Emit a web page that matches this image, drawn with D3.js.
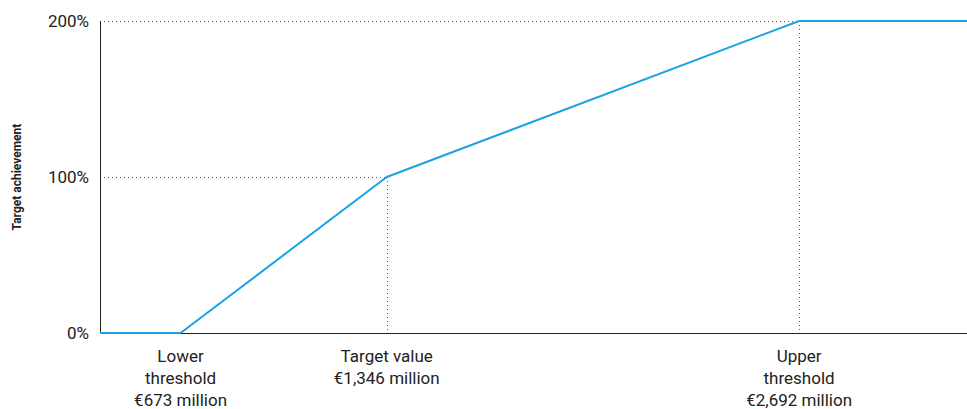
<!DOCTYPE html>
<html>
<head>
<meta charset="utf-8">
<script src="https://cdn.jsdelivr.net/npm/d3@7"></script>
<style>
  body { margin: 0; background: #fff; }
  text { font-family: Roboto, "Noto Sans", sans-serif; fill: #222; }
</style>
</head>
<body>
<script>
// payout curve: EBIT in € million vs target achievement in %
const curveX = [410, 673, 1346, 2692, 3240];
const curveY = [0, 0, 100, 200, 200];
const yTicks = [0, 100, 200];
const yTickLabels = ["0%", "100%", "200%"];
// labelled thresholds on the x axis
const markX = [673, 1346, 2692];
const markY = [0, 100, 200];
const markLabels = [
  ["Lower", "threshold", "€673 million"],
  ["Target value", "€1,346 million"],
  ["Upper", "threshold", "€2,692 million"]
];

var width = 967, height = 409;
var margin = {top: 21, right: 0, bottom: 76, left: 100};

var svg = d3.select("body").append("svg")
  .attr("width", width)
  .attr("height", height);

var x = d3.scaleLinear()
  .domain([curveX[0], curveX[curveX.length - 1]])
  .range([margin.left, width - margin.right]);

var y = d3.scaleLinear()
  .domain([0, 200])
  .range([height - margin.bottom, margin.top]);

// dotted guide lines
var guides = svg.append("g")
  .attr("stroke", "#555")
  .attr("stroke-width", 1)
  .attr("stroke-dasharray", "1,3");

yTicks.slice(1).forEach(function(t, i) {
  var xe = x(markX[i + 1]);
  guides.append("line")
    .attr("x1", x.range()[0]).attr("x2", xe)
    .attr("y1", y(t) + 0.5).attr("y2", y(t) + 0.5);
});
markX.slice(1).forEach(function(v, i) {
  guides.append("line")
    .attr("x1", Math.round(x(v)) + 0.5).attr("x2", Math.round(x(v)) + 0.5)
    .attr("y1", y(markY[i + 1])).attr("y2", y(0));
});

// axes
svg.append("line")
  .attr("x1", x.range()[0] + 0.5).attr("x2", x.range()[0] + 0.5)
  .attr("y1", y(200)).attr("y2", y(0))
  .attr("stroke", "#222");
svg.append("line")
  .attr("x1", x.range()[0]).attr("x2", x.range()[1])
  .attr("y1", y(0) + 0.5).attr("y2", y(0) + 0.5)
  .attr("stroke", "#222");

// y tick labels
svg.append("g").selectAll("text")
  .data(yTicks)
  .enter().append("text")
  .attr("x", x.range()[0] - 11)
  .attr("y", function(d) { return y(d); })
  .attr("dy", "0.35em")
  .attr("text-anchor", "end")
  .style("font-size", "17px")
  .text(function(d, i) { return yTickLabels[i]; });

// y axis title
svg.append("text")
  .attr("transform", "translate(21," + y(100) + ") rotate(-90)")
  .attr("text-anchor", "middle")
  .style("font-size", "12px")
  .style("font-weight", "bold")
  .text("Target achievement");

// the curve
var line = d3.line()
  .x(function(d) { return x(d[0]); })
  .y(function(d) { return y(d[1]); });

svg.append("path")
  .datum(curveX.map(function(v, i) { return [v, curveY[i]]; }))
  .attr("d", line)
  .attr("fill", "none")
  .attr("stroke", "#1aa1e6")
  .attr("stroke-width", 2)
  .attr("stroke-linejoin", "round");

// x labels under each threshold
var lab = svg.append("g").selectAll("text")
  .data(markX)
  .enter().append("text")
  .attr("x", function(d) { return x(d); })
  .attr("y", y(0) + 29)
  .attr("text-anchor", "middle")
  .style("font-size", "17px");

lab.each(function(d, i) {
  var t = d3.select(this);
  markLabels[i].forEach(function(s, j) {
    t.append("tspan")
      .attr("x", x(d))
      .attr("dy", j ? 22 : 0)
      .text(s);
  });
});
</script>
</body>
</html>
